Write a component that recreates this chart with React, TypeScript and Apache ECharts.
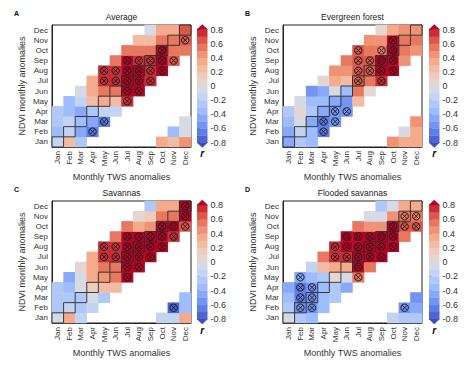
import React, { useEffect, useRef } from "react";
import * as echarts from "echarts";

const months = ["Jan", "Feb", "Mar", "Apr", "May", "Jun", "Jul", "Aug", "Sep", "Oct", "Nov", "Dec"];
// TWS month offset relative to NDVI month for each value column
const lags = [-3, -2, -1, 0, 1, 2];
const levelBounds = [-0.8, -0.7, -0.6, -0.5, -0.4, -0.3, -0.2, -0.1, 0, 0.1, 0.2, 0.3, 0.4, 0.5, 0.6, 0.7, 0.8];
const panelTitles = ["Average", "Evergreen forest", "Savannas", "Flooded savannas"];
const panelLetters = ["A", "B", "C", "D"];

// rows: NDVI month Jan..Dec; columns: TWS month = NDVI month + lags
const averageR = [
  [0.3, 0.25, 0.45, -0.15, 0.2, -0.25],
  [-0.35, -0.1, -0.4, -0.15, -0.5, -0.65],
  [-0.05, -0.3, -0.15, -0.4, -0.5, -0.65],
  [-0.25, -0.35, -0.45, -0.25, -0.2, -0.2],
  [-0.35, -0.15, 0.2, 0.3, 0.25, 0.75],
  [-0.05, 0.35, 0.5, 0.55, 0.85, 0.8],
  [0.35, 0.7, 0.7, 0.85, 0.8, 0.75],
  [0.7, 0.7, 0.85, 0.85, 0.75, 0.8],
  [0.5, 0.85, 0.7, 0.7, 0.8, 0.6],
  [0.55, 0.5, 0.5, 0.8, 0.55, 0.5],
  [0.25, 0.25, 0.55, 0.5, 0.6, null],
  [-0.1, 0.3, 0.35, 0.6, null, null],
];
const averageSig = [
  ["Apr", "Feb"], ["May", "Mar"], ["Jul", "May"], ["Jul", "Jun"], ["Aug", "Jun"],
  ["May", "Jul"], ["Jun", "Jul"], ["Jul", "Jul"], ["Aug", "Jul"], ["Sep", "Jul"],
  ["May", "Aug"], ["Jun", "Aug"], ["Jul", "Aug"], ["Aug", "Aug"], ["Sep", "Aug"], ["Oct", "Aug"],
  ["Jul", "Sep"], ["Aug", "Sep"], ["Sep", "Sep"], ["Oct", "Sep"], ["Nov", "Sep"],
  ["Oct", "Oct"], ["Dec", "Nov"],
];

const evergreenR = [
  [0.45, 0.3, 0.3, -0.45, -0.3, -0.35],
  [-0.05, 0.3, -0.5, -0.15, -0.4, -0.7],
  [0.45, -0.4, -0.05, -0.45, -0.7, -0.6],
  [-0.25, 0.05, -0.3, -0.45, -0.55, -0.6],
  [-0.1, -0.4, -0.4, -0.45, -0.6, 0.2],
  [-0.55, -0.45, -0.1, -0.4, 0.5, 0.05],
  [0.05, 0.35, 0.25, 0.65, 0.5, 0.7],
  [0.45, 0.45, 0.6, 0.6, 0.8, 0.85],
  [0.5, 0.6, 0.6, 0.8, 0.85, 0.45],
  [0.6, 0.5, 0.55, 0.85, 0.5, 0.45],
  [0.45, 0.45, 0.85, 0.55, 0.5, null],
  [0.05, 0.3, 0.4, 0.4, null, null],
];
const evergreenSig = [
  ["Apr", "Feb"], ["Apr", "Mar"], ["May", "Mar"], ["May", "Apr"], ["Jun", "Apr"],
  ["Jul", "Jul"], ["Sep", "Jul"],
  ["Jul", "Aug"], ["Aug", "Aug"], ["Sep", "Aug"], ["Oct", "Aug"],
  ["Jul", "Sep"], ["Aug", "Sep"], ["Sep", "Sep"], ["Oct", "Sep"],
  ["Jul", "Oct"], ["Sep", "Oct"], ["Oct", "Oct"], ["Oct", "Nov"],
];

const savannaR = [
  [-0.15, -0.2, 0.3, -0.05, 0.3, -0.2],
  [-0.75, -0.35, -0.25, -0.2, -0.3, -0.15],
  [-0.4, -0.25, -0.25, -0.25, -0.05, -0.25],
  [-0.25, -0.4, -0.1, 0.15, 0.25, 0.25],
  [-0.5, -0.1, 0.3, 0.4, 0.55, 0.85],
  [0.05, 0.3, 0.5, 0.55, 0.85, 0.8],
  [0.35, 0.75, 0.75, 0.85, 0.85, 0.8],
  [0.75, 0.7, 0.85, 0.85, 0.8, 0.85],
  [0.55, 0.85, 0.85, 0.8, 0.85, 0.75],
  [0.55, 0.35, 0.4, 0.85, 0.8, 0.65],
  [0.05, 0.1, 0.5, 0.55, 0.85, null],
  [-0.25, 0.3, 0.3, 0.85, null, null],
];
const savannaSig = [
  ["Nov", "Feb"], ["Jul", "May"], ["Jul", "Jun"], ["Aug", "Jun"],
  ["May", "Jul"], ["Jun", "Jul"], ["Jul", "Jul"], ["Aug", "Jul"], ["Sep", "Jul"],
  ["May", "Aug"], ["Jun", "Aug"], ["Jul", "Aug"], ["Aug", "Aug"], ["Sep", "Aug"], ["Oct", "Aug"],
  ["Jul", "Sep"], ["Aug", "Sep"], ["Sep", "Sep"], ["Oct", "Sep"], ["Nov", "Sep"],
  ["Oct", "Oct"], ["Nov", "Oct"], ["Dec", "Oct"], ["Dec", "Nov"], ["Dec", "Dec"],
];

const floodedR = [
  [-0.2, -0.25, -0.3, -0.05, -0.25, -0.35],
  [-0.6, -0.5, -0.3, -0.6, -0.55, -0.4],
  [-0.55, -0.35, -0.65, -0.55, -0.35, -0.3],
  [-0.45, -0.65, -0.55, -0.4, -0.3, -0.45],
  [-0.5, -0.4, -0.3, 0.05, -0.1, 0.55],
  [-0.15, 0.2, 0.3, 0.35, 0.85, 0.5],
  [0.5, 0.75, 0.75, 0.85, 0.85, 0.8],
  [0.75, 0.8, 0.85, 0.85, 0.8, 0.8],
  [0.8, 0.8, 0.85, 0.85, 0.85, 0.5],
  [0.5, 0.4, 0.4, 0.85, 0.6, 0.6],
  [-0.05, -0.05, 0.45, 0.55, 0.55, null],
  [-0.3, -0.05, 0.35, 0.3, null, null],
];
const floodedSig = [
  ["Nov", "Feb"], ["Feb", "Feb"], ["Mar", "Feb"], ["Feb", "Mar"], ["Mar", "Mar"],
  ["Feb", "Apr"], ["Mar", "Apr"], ["Feb", "May"], ["Jul", "May"], ["Jul", "Jun"],
  ["May", "Jul"], ["Jun", "Jul"], ["Jul", "Jul"], ["Aug", "Jul"], ["Sep", "Jul"],
  ["May", "Aug"], ["Jun", "Aug"], ["Jul", "Aug"], ["Aug", "Aug"], ["Sep", "Aug"], ["Oct", "Aug"],
  ["Jun", "Sep"], ["Jul", "Sep"], ["Aug", "Sep"], ["Sep", "Sep"], ["Oct", "Sep"],
  ["Oct", "Oct"], ["Nov", "Oct"], ["Dec", "Oct"], ["Nov", "Nov"], ["Dec", "Nov"],
];

const panelValues = [averageR, evergreenR, savannaR, floodedR];
const panelSig = [averageSig, evergreenSig, savannaSig, floodedSig];

// coolwarm-like discrete palette: [< -0.8, 16 levels, >= 0.8]
const palette = [
  "#3b4cc0", "#4d65d3", "#5f7de6", "#7394f2", "#88a9f9", "#9dbdfe", "#b0c8f8", "#c3d4f2", "#d5dae4",
  "#e4d7d1", "#eeccbb", "#f2bba4", "#f6aa8c", "#f09276", "#e7785f", "#da574a", "#c72e38", "#b40426",
];

const FONT = "Liberation Sans, Arial, Helvetica, sans-serif";
const TXT = "#333";

const heatGrids = [
  { left: 52, top: 25, width: 139, height: 122 },
  { left: 283, top: 25, width: 139, height: 122 },
  { left: 52, top: 201, width: 139, height: 122 },
  { left: 283, top: 201, width: 139, height: 122 },
];
const barGrids = [
  { left: 197, top: 29.5, width: 10.5, height: 113 },
  { left: 429, top: 29.5, width: 10.5, height: 113 },
  { left: 197, top: 205, width: 10.5, height: 114 },
  { left: 429, top: 205, width: 10.5, height: 114 },
];

function toCells(rows: (number | null)[][]) {
  const out: number[][] = [];
  rows.forEach((row, y) => {
    row.forEach((v, k) => {
      if (v === null) return;
      let x = y + lags[k];
      if (x < 0) x += 12;
      if (x > 11) return;
      out.push([x, y, v]);
    });
  });
  return out;
}

export default function App() {
  const ref = useRef<HTMLDivElement>(null);
  useEffect(() => {
    if (!ref.current) return;
    const chart = echarts.init(ref.current, undefined, { renderer: "svg" });

    const grids: any[] = [];
    const xAxes: any[] = [];
    const yAxes: any[] = [];
    const series: any[] = [];
    const graphics: any[] = [];

    heatGrids.forEach((g, i) => {
      grids.push({ ...g, show: true, borderColor: "#222", borderWidth: 1, backgroundColor: "transparent" });
      xAxes.push({
        type: "category", gridIndex: i, data: months, position: "bottom",
        axisLine: { lineStyle: { color: "#222", width: 1 } },
        axisTick: { alignWithLabel: true, length: 4, lineStyle: { color: "#222" } },
        axisLabel: { rotate: 90, interval: 0, fontSize: 8, color: TXT, margin: 4, fontFamily: FONT },
        splitLine: { show: false },
        name: "Monthly TWS anomalies", nameLocation: "middle", nameGap: 25,
        nameTextStyle: { fontSize: 9, color: TXT, fontFamily: FONT },
      });
      yAxes.push({
        type: "category", gridIndex: i, data: months,
        axisLine: { lineStyle: { color: "#222", width: 1 } },
        axisTick: { alignWithLabel: true, length: 4, lineStyle: { color: "#222" } },
        axisLabel: { interval: 0, fontSize: 8, color: TXT, margin: 4, fontFamily: FONT },
        splitLine: { show: false },
        name: "NDVI monthly anomalies", nameLocation: "middle", nameGap: 26, nameRotate: 90,
        nameTextStyle: { fontSize: 9, color: TXT, fontFamily: FONT },
      });
    });
    barGrids.forEach((g, i) => {
      grids.push({ ...g });
      xAxes.push({ type: "value", gridIndex: 4 + i, min: 0, max: 1, show: false });
      yAxes.push({
        type: "value", gridIndex: 4 + i, min: -0.8, max: 0.8, interval: 0.2, position: "right",
        axisLine: { show: false },
        axisTick: { show: true, length: 3, lineStyle: { color: "#222" } },
        splitLine: { show: false },
        axisLabel: {
          fontSize: 9, color: TXT, margin: 3, fontFamily: FONT,
          formatter: (v: number) => (Math.abs(v) < 1e-9 ? "0" : v.toFixed(1)),
        },
      });
    });

    // heatmaps
    panelValues.forEach((rows, i) => {
      series.push({
        type: "heatmap", xAxisIndex: i, yAxisIndex: i, data: toCells(rows),
        itemStyle: { borderWidth: 0 }, emphasis: { disabled: true }, progressive: 0,
      });
    });
    // diagonal outlines
    panelValues.forEach((_, i) => {
      series.push({
        type: "custom", xAxisIndex: i, yAxisIndex: i, silent: true,
        data: months.map((_, k) => [k, k]),
        renderItem: (params: any, api: any) => {
          const c = api.coord([api.value(0), api.value(1)]);
          const s = api.size([1, 1]);
          return {
            type: "rect",
            shape: { x: c[0] - s[0] / 2, y: c[1] - s[1] / 2, width: s[0], height: s[1] },
            style: { fill: "none", stroke: "#2a2a2a", lineWidth: 0.9 },
          };
        },
      });
    });
    // significance markers
    panelSig.forEach((sig, i) => {
      series.push({
        type: "custom", xAxisIndex: i, yAxisIndex: i, silent: true,
        data: sig.map(([tws, ndvi]) => [months.indexOf(tws), months.indexOf(ndvi)]),
        renderItem: (params: any, api: any) => {
          const c = api.coord([api.value(0), api.value(1)]);
          const s = api.size([1, 1]);
          const r = Math.min(s[0], s[1]) * 0.37;
          const d = r * 0.7071;
          const style = { fill: "none", stroke: "#151515", lineWidth: 0.9 };
          return {
            type: "group",
            children: [
              { type: "circle", shape: { cx: c[0], cy: c[1], r }, style },
              { type: "line", shape: { x1: c[0] - d, y1: c[1] - d, x2: c[0] + d, y2: c[1] + d }, style },
              { type: "line", shape: { x1: c[0] + d, y1: c[1] - d, x2: c[0] - d, y2: c[1] + d }, style },
            ],
          };
        },
      });
    });
    // colorbars
    barGrids.forEach((_, i) => {
      series.push({
        type: "custom", xAxisIndex: 4 + i, yAxisIndex: 4 + i, silent: true, clip: false,
        data: palette.map((_, k) => [k]),
        renderItem: (params: any, api: any) => {
          const k = api.value(0);
          const color = palette[k];
          if (k === 0 || k === palette.length - 1) {
            const edge = k === 0 ? levelBounds[0] : levelBounds[levelBounds.length - 1];
            const a = api.coord([0, edge]);
            const b = api.coord([1, edge]);
            const tip = k === 0 ? 5 : -5;
            return {
              type: "polygon",
              shape: { points: [[a[0], a[1]], [b[0], b[1]], [(a[0] + b[0]) / 2, a[1] + tip]] },
              style: { fill: color, stroke: color, lineWidth: 0.5 },
            };
          }
          const lo = api.coord([0, levelBounds[k - 1]]);
          const hi = api.coord([1, levelBounds[k]]);
          return {
            type: "rect",
            shape: { x: lo[0], y: hi[1], width: hi[0] - lo[0], height: lo[1] - hi[1] + 0.3 },
            style: { fill: color, stroke: null },
          };
        },
      });
    });

    heatGrids.forEach((g, i) => {
      graphics.push({
        type: "text", x: g.left + g.width / 2, y: g.top - 4,
        style: { text: panelTitles[i], fontSize: 8.5, fill: "#222", fontFamily: FONT, textAlign: "center", textVerticalAlign: "bottom" },
      });
      graphics.push({
        type: "text", x: g.left - 38, y: g.top - 12,
        style: { text: panelLetters[i], fontSize: 7, fontWeight: "bold", fill: "#111", fontFamily: FONT, textAlign: "left", textVerticalAlign: "middle" },
      });
    });
    barGrids.forEach((g) => {
      graphics.push({
        type: "text", x: g.left + g.width / 2, y: g.top + g.height + 11,
        style: { text: "r", fontSize: 10, fontStyle: "italic", fontWeight: "bold", fill: "#111", fontFamily: FONT, textAlign: "center", textVerticalAlign: "middle" },
      });
    });

    const pieces: any[] = [{ lt: levelBounds[0], color: palette[0] }];
    for (let k = 1; k < levelBounds.length; k++) {
      pieces.push({ gte: levelBounds[k - 1], lt: levelBounds[k], color: palette[k] });
    }
    pieces.push({ gte: levelBounds[levelBounds.length - 1], color: palette[palette.length - 1] });

    chart.setOption({
      animation: false,
      backgroundColor: "#fff",
      textStyle: { fontFamily: FONT },
      grid: grids,
      xAxis: xAxes,
      yAxis: yAxes,
      visualMap: { type: "piecewise", show: false, seriesIndex: [0, 1, 2, 3], dimension: 2, pieces },
      series,
      graphic: graphics,
    });
    return () => chart.dispose();
  }, []);
  return <div ref={ref} style={{ position: "fixed", left: 0, top: 0, width: 474, height: 365, background: "#fff" }} />;
}
